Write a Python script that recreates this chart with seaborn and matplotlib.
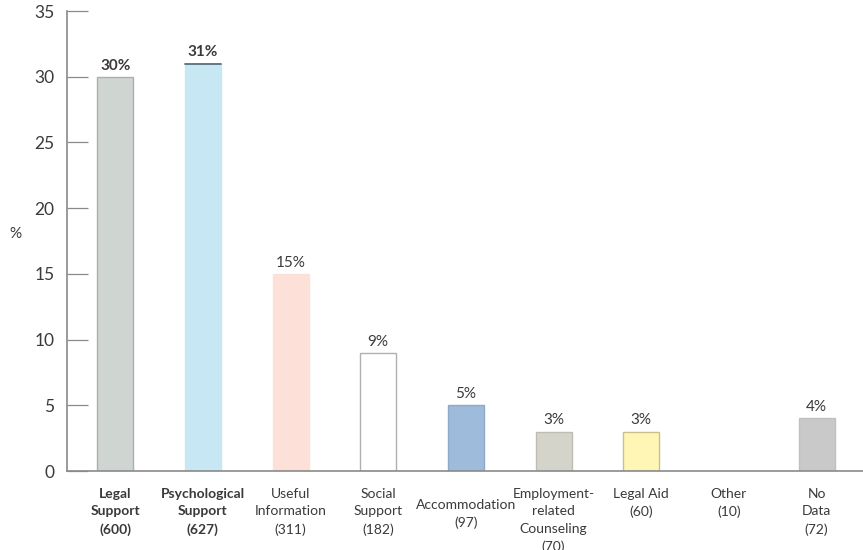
import matplotlib
matplotlib.use('Agg')
import matplotlib.pyplot as plt
import matplotlib.transforms as mtransforms
import seaborn as sns
import pandas as pd

sns.set_style("white")
plt.rcParams['font.family'] = ['Lato', 'DejaVu Sans']

# 数据
categories = ['Legal\nSupport\n(600)', 'Psychological\nSupport\n(627)',
              'Useful\nInformation\n(311)', 'Social\nSupport\n(182)',
              'Accommodation\n(97)', 'Employment-\nrelated\nCounseling\n(70)',
              'Legal Aid\n(60)', 'Other\n(10)', 'No\nData\n(72)']
values = [30, 31, 15, 9, 5, 3, 3, 0, 4]
value_labels = ['30%', '31%', '15%', '9%', '5%', '3%', '3%', '', '4%']
bold_flags = [True, True, False, False, False, False, False, False, False]
colors = ['#cfd5d1', '#c6e7f3', '#fde1d9', '#ffffff', '#9fbbdb',
          '#d4d4ca', '#fff6b5', '#ffffff', '#c9c9c9']
edges = ['#a9afab', '#c6e7f3', '#fde1d9', '#b0b0b0', '#8ea9c8',
         '#bdbdb3', '#c9c08a', '#ffffff', '#c0c0c0']
yticks = [0, 5, 10, 15, 20, 25, 30, 35]

df = pd.DataFrame({'cat': categories, 'val': values})

fig = plt.figure(figsize=(8.63, 5.5), dpi=100)
ax = fig.add_axes([67 / 863, 79 / 550, 1 - 67 / 863, 460 / 550])

sns.barplot(data=df, x='cat', y='val', hue='cat', palette=colors,
            order=categories, hue_order=categories, width=0.41,
            legend=False, ax=ax, saturation=1)

text_color = '#3a3a3a'
i = 0
for cont in ax.containers:
    for p in cont.patches:
        p.set_edgecolor(edges[i])
        p.set_linewidth(1)
        if value_labels[i]:
            ax.annotate(value_labels[i],
                        (p.get_x() + p.get_width() / 2, p.get_height()),
                        xytext=(0, 3), textcoords='offset points',
                        ha='center', va='bottom', fontsize=11,
                        color=text_color,
                        fontweight='bold' if bold_flags[i] else 'normal')
        # 心理支持柱顶部的深色线
        if i == 1:
            ax.plot([p.get_x(), p.get_x() + p.get_width()],
                    [p.get_height(), p.get_height()],
                    color='#5a6e7a', linewidth=1.3)
        i += 1

ax.set_xlim(-0.55, len(categories) - 0.47)
ax.set_ylim(0, 35)
ax.set_yticks(yticks)
ax.set_yticklabels([str(t) for t in yticks], fontsize=12.5, color=text_color)
ax.tick_params(axis='y', direction='in', length=15, width=0.9,
               color='#8a8a8a', pad=9, left=True)
ax.tick_params(axis='x', length=0, pad=12)
ax.set_xticks(range(len(categories)))
ax.set_xticklabels(categories, fontsize=10, color=text_color, va='top')
for lbl, b in zip(ax.get_xticklabels(), bold_flags):
    lbl.set_linespacing(1.55)
    if b:
        lbl.set_fontweight('bold')
# Accommodation 标签略低
acc = ax.get_xticklabels()[4]
acc.set_transform(acc.get_transform() +
                  mtransforms.ScaledTranslation(0, -8 / 72, fig.dpi_scale_trans))

ax.set_xlabel('')
ax.set_ylabel('%', rotation=0, fontsize=11, color=text_color)
ax.yaxis.set_label_coords(-0.065, 0.5)

for s in ['top', 'right']:
    ax.spines[s].set_visible(False)
for s in ['left', 'bottom']:
    ax.spines[s].set_color('#8a8a8a')
    ax.spines[s].set_linewidth(1.2)

fig.savefig('out.png', dpi=100)
